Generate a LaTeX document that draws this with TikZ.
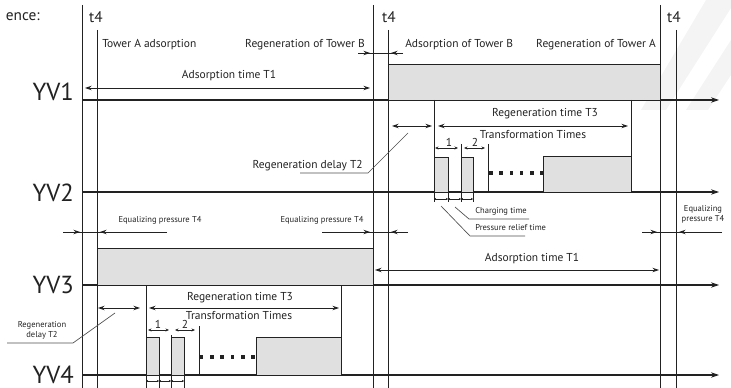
\documentclass[tikz,border=0pt]{standalone}
\usepackage{fontspec}
\setmainfont{PT Sans}
\usetikzlibrary{arrows.meta}
\definecolor{ink}{HTML}{222222}
\definecolor{pulse}{HTML}{E0E0E0}
\definecolor{bgstripe}{HTML}{F4F4F4}
\begin{document}
\begin{tikzpicture}[x=0.75pt,y=-0.75pt,
  line/.style={draw=ink,line width=0.7pt},
  grid/.style={draw=ink,line width=0.6pt},
  axis/.style={draw=ink,line width=0.8pt,-{Stealth[length=6pt,width=4pt]}},
  dim/.style={draw=ink,line width=0.7pt,{Stealth[length=5pt,width=3.4pt]}-{Stealth[length=5pt,width=3.4pt]}},
  tipin/.style={draw=ink,line width=0.7pt,-{Stealth[length=5pt,width=3.4pt]}},
  smalldim/.style={draw=ink,line width=0.5pt,{Stealth[length=2.6pt,width=2.2pt]}-{Stealth[length=2.6pt,width=2.2pt]}},
  tinydim/.style={draw=ink,line width=0.4pt,{Stealth[length=1.6pt,width=1.6pt]}-{Stealth[length=1.6pt,width=1.6pt]}},
  leader/.style={draw=ink!80,line width=0.5pt},
  pulsebox/.style={draw=ink,line width=0.6pt,fill=pulse},
  dotmark/.style={fill=ink,inner sep=0pt,minimum size=2.8pt},
  lab/.style={text=ink,inner sep=0pt,font=\fontsize{8.6}{10}\selectfont},
  smalllab/.style={text=ink,inner sep=0pt,font=\fontsize{6.4}{7.6}\selectfont},
  biglab/.style={text=ink,inner sep=0pt,font=\fontsize{11.5}{13}\selectfont},
  valve/.style={text=ink,inner sep=0pt,font=\fontsize{18.5}{20}\selectfont},
]
\useasboundingbox (0,0) rectangle (731,388);

% faint background stripes
\fill[bgstripe] (706,0) -- (731,0) -- (731,8) -- (666,110) -- (641,110) -- cycle;
\fill[bgstripe] (731,40) -- (731,75) -- (708,110) -- (686,110) -- cycle;

% time markers
\foreach \x in {82,373,660} \draw[grid] (\x,5) -- (\x,388);
\foreach \x in {97,388,676} \draw[grid] (\x,30) -- (\x,388);

\node[biglab,anchor=east] (seq) at (40,17) {ence:};
\node[biglab] (t4a) at (96,17) {t4};
\node[biglab] (t4b) at (389,17) {t4};
\node[biglab] (t4c) at (674,17) {t4};

% phase captions
\node[lab,anchor=west] (pA) at (102,45) {Tower A adsorption};
\node[lab,anchor=east] (pB) at (365,45) {Regeneration of Tower B};
\node[lab,anchor=west] (pC) at (405,45) {Adsorption of Tower B};
\node[lab,anchor=east] (pD) at (656,45) {Regeneration of Tower A};

% pressure equalizing marks
\draw[line] (358,53) -- (403,53);
\draw[tipin] (358,53) -- (370,53);
\draw[tipin] (403,53) -- (391,53);

% valve axes
\node[valve,anchor=base east] (yv1) at (74,101) {YV1};
\node[valve,anchor=base east] (yv2) at (74,202) {YV2};
\node[valve,anchor=base east] (yv3) at (74,293) {YV3};
\node[valve,anchor=base east] (yv4) at (74,383) {YV4};
\foreach \y in {100,192,285,375} \draw[axis] (82,\y) -- (719,\y);

% YV1
\filldraw[pulsebox] (388,64) rectangle (660,100);
\draw[dim] (85,88) -- (370,88);
\node[lab] (t1a) at (229,76) {Adsorption time T1};

% YV2
\draw[line] (434,100) -- (434,202);
\draw[line] (631,100) -- (631,192);
\draw[dim] (392,126) -- (432,126);
\draw[dim] (438,126) -- (628,126);
\node[lab] (t3a) at (545,114) {Regeneration time T3};
\node[lab] (tta) at (533,135) {Transformation Times};
\filldraw[pulsebox] (434,157) rectangle (448,192);
\draw[line] (448,192) -- (448,202);
\filldraw[pulsebox] (461,157) rectangle (473,192);
\draw[line] (461,144) -- (461,202);
\draw[line] (473,192) -- (473,202);
\draw[line] (488,144) -- (488,192);
\filldraw[pulsebox] (543,156) rectangle (631,192);
\foreach \i in {0,...,5} \node[dotmark] at (491+10.2*\i,173) {};
\draw[smalldim] (435,148) -- (458,148);
\node[lab] (n1a) at (449,142) {1};
\draw[smalldim] (464,148) -- (485,148);
\node[lab] (n2a) at (475,142) {2};
\draw[tinydim] (434,199) -- (448,199);
\draw[tinydim] (448,199) -- (461,199);
\draw[tinydim] (461,199) -- (473,199);
\draw[leader] (455,207) -- (469,219) -- (529,219);
\node[smalllab,anchor=base west] (chg) at (475,214) {Charging time};
\draw[leader] (441,206) -- (470,236) -- (525,236);
\node[smalllab,anchor=base west] (rel) at (475,231) {Pressure relief time};
\draw[leader] (300,173) -- (368,173) -- (408,133);
\node[lab,anchor=base east] (t2a) at (363,169) {Regeneration delay T2};

% equalizing pressure between YV2 and YV3
\draw[line] (63,232) -- (167,232);
\draw[tipin] (63,232) -- (80,232);
\draw[tipin] (167,232) -- (100,232);
\node[smalllab] (eq1) at (160,220) {Equalizing pressure T4};
\draw[line] (322,232) -- (408,232);
\draw[tipin] (322,232) -- (370,232);
\draw[tipin] (408,232) -- (391,232);
\node[smalllab] (eq2) at (322,220) {Equalizing pressure T4};
\draw[line] (642,232) -- (722,232);
\draw[tipin] (642,232) -- (657,232);
\draw[tipin] (722,232) -- (679,232);
\node[smalllab,align=center] (eq3) at (703,214) {Equalizing\\pressure T4};

% YV3
\filldraw[pulsebox] (97,248) rectangle (373,285);
\draw[dim] (375,270) -- (659,270);
\node[lab] (t1b) at (532,259) {Adsorption time T1};

% YV4
\draw[line] (146,285) -- (146,388);
\draw[line] (341,285) -- (341,375);
\draw[dim] (98,308) -- (140,308);
\draw[dim] (149,308) -- (339,308);
\node[lab] (t3b) at (240,298) {Regeneration time T3};
\node[lab] (ttb) at (239,316) {Transformation Times};
\filldraw[pulsebox] (146,337) rectangle (159,375);
\draw[line] (159,375) -- (159,388);
\filldraw[pulsebox] (171,337) rectangle (184,375);
\draw[line] (171,335) -- (171,388);
\draw[line] (184,375) -- (184,388);
\draw[line] (199,326) -- (199,375);
\filldraw[pulsebox] (256,337) rectangle (341,375);
\foreach \i in {0,...,5} \node[dotmark] at (201.5+10.3*\i,357) {};
\draw[smalldim] (148,330) -- (169,330);
\node[lab] (n1b) at (158,324.5) {1};
\draw[smalldim] (175,330) -- (195,330);
\node[lab] (n2b) at (185,324.5) {2};
\draw[tinydim] (146,381) -- (159,381);
\draw[tinydim] (159,381) -- (171,381);
\draw[tinydim] (171,381) -- (184,381);
\draw[leader] (7,343) -- (73,343) -- (115,313);
\node[smalllab,align=center] (t2b) at (42,330) {Regeneration\\delay T2};
\end{tikzpicture}
\end{document}
